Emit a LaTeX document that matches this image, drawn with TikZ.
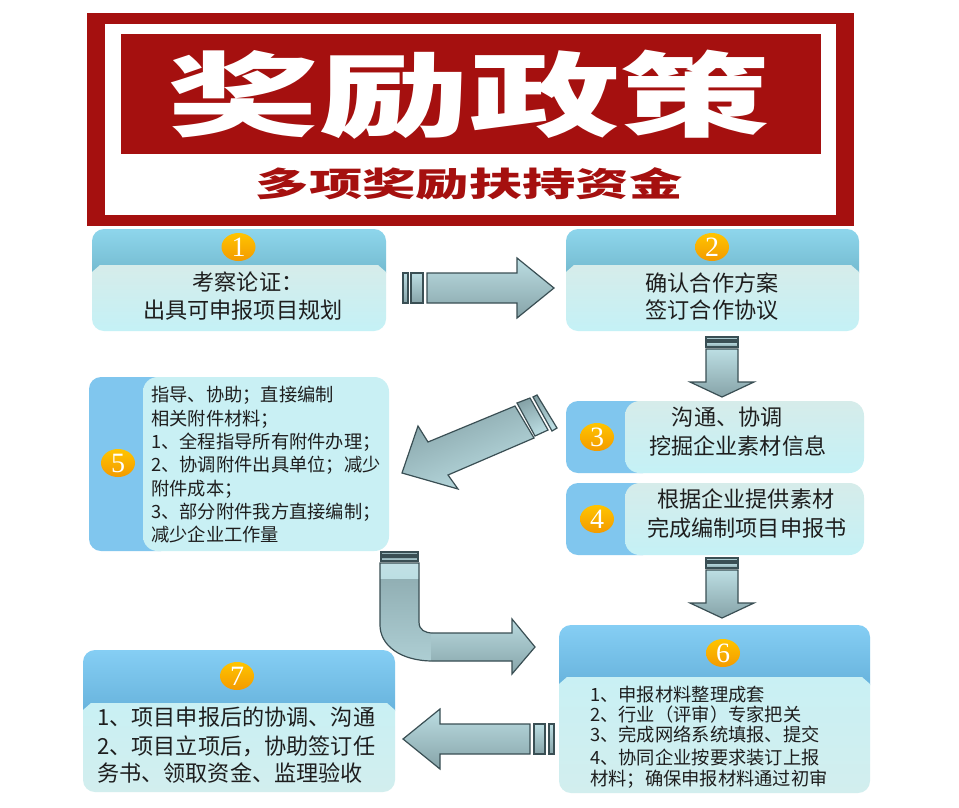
\documentclass[tikz,border=0pt]{standalone}
\usepackage{fontspec}
\setmainfont{Noto Sans CJK SC}
\newfontfamily\numfont{Liberation Serif}
\usetikzlibrary{calc,shapes.geometric}
\newcommand\fsemi{\char"FF1B\relax}
\newcommand\fcomma{\char"FF0C\relax}
\newcommand\fcolon{\char"FF1A\relax}
\newcommand\fopen{\char"FF08\relax}
\newcommand\fclose{\char"FF09\relax}
\definecolor{bannerred}{HTML}{A5100F}
\definecolor{bodyA}{HTML}{D6ECEA}
\definecolor{bodyB}{HTML}{C4F1F6}
\definecolor{bodyC}{HTML}{C9F0F4}
\definecolor{bodyD}{HTML}{D2EEEE}
\definecolor{tealtop}{HTML}{8ED6EC}
\definecolor{tealbot}{HTML}{6DB3C8}
\definecolor{bluetop}{HTML}{85CEF4}
\definecolor{bluebot}{HTML}{62AED8}
\definecolor{sideblue}{HTML}{80C6EE}
\definecolor{arrowdark}{HTML}{86A3A8}
\definecolor{arrowlight}{HTML}{BCDEE3}
\definecolor{arrowline}{HTML}{3A4F54}
\definecolor{orangetop}{HTML}{FFC400}
\definecolor{orangebot}{HTML}{F39A00}
\definecolor{inktext}{HTML}{1E1E1E}
\tikzset{
  bodyfill/.style={top color=bodyA,bottom color=bodyB},
  bodyrev/.style={top color=bodyC,bottom color=bodyD},
  bodyflat/.style={top color=bodyC,bottom color=bodyC!90!bodyB},
  badge/.style={ellipse,minimum width=25.5pt,minimum height=21pt,inner sep=0pt,top color=orangetop,bottom color=orangebot,text=white,font=\numfont\fontsize{21pt}{21pt}\selectfont},
  bigtext/.style={text=inktext,font=\fontsize{16.6pt}{20pt}\selectfont,inner sep=0pt,align=left},
  smalltext/.style={text=inktext,font=\fontsize{13.7pt}{17.5pt}\selectfont,inner sep=0pt,align=left},
  arrowpart/.style={draw=arrowline,line width=0.9pt,line join=miter},
  arrowshade/.style={arrowpart,top color=arrowlight,bottom color=arrowdark},
  slantshade/.style={arrowshade,shading angle=202.6},
}
% top-header panel: [body style] name, x1, y1, x2, y2, ybody, headtop, headbot
\newcommand\toppanelB[9][bodyfill]{%
  \shade[top color=#8,bottom color=#9,rounded corners=9pt] (#3,#4) rectangle (#5,{#7+20});
  \shade[#1] (#3,{#7+7}) -- ({#3+8},#7) -- ({#5-8},#7) -- (#5,{#7+7}) [rounded corners=9pt] -- (#5,#6) -- (#3,#6) [sharp corners] -- cycle;
  \coordinate (#2) at ({(#3+#5)/2},{(#4+#6)/2});
}
% side-header panel: [body style] name, x1, y1, x2, y2, xbody
\newcommand\sidepanel[7][bodyfill]{%
  \fill[sideblue,rounded corners=9pt] (#3,#4) rectangle ({#7+30},#6);
  \shade[#1,rounded corners=11pt] (#7,#4) rectangle (#5,#6);
  \coordinate (#2) at ({(#3+#5)/2},{(#4+#6)/2});
}
% block arrow: start, angle, thin bar end, wide bar start, wide bar end, shaft start, head start, tip, shaft half width
\newcommand\fatarrow[9]{%
  \begin{scope}[shift={(#1)},rotate=#2]
    \shade[arrowshade] (0,-#9) rectangle (#3,#9);
    \shade[arrowshade] (#4,-#9) rectangle (#5,#9);
    \shade[arrowshade] (#6,-#9) -- (#7,-#9) -- (#7,{-2*#9}) -- (#8,0) -- (#7,{2*#9}) -- (#7,#9) -- (#6,#9) -- cycle;
  \end{scope}
}
\newcommand\bendpath{(380,563) -- (419,563) -- (419,622) .. controls (419,630) and (425,633) .. (433,633) -- (512,633) -- (512,619) -- (535,647) -- (512,674) -- (512,661) -- (433,661) .. controls (400,661) and (380,645) .. (380,625) -- cycle}
\begin{document}
\begin{tikzpicture}[x=0.75pt,y=-0.75pt]
\useasboundingbox (0,0) rectangle (959,807);
\fill[white] (0,0) rectangle (959,807);
% banner
\fill[bannerred] (87,13) rectangle (854,226);
\fill[white] (105,24) rectangle (836,215);
\fill[bannerred] (121,33.5) rectangle (821,154);
\node[text=white,font=\bfseries\fontsize{69pt}{69pt}\selectfont,xscale=1.64,inner sep=0pt] (title) at (469,95) {奖励政策};
\node[text=bannerred,font=\bfseries\fontsize{25pt}{25pt}\selectfont,xscale=1.6,inner sep=0pt] (subtitle) at (469,184) {多项奖励扶持资金};
% panels
\toppanelB{p1}{92}{229}{386}{331}{265}{tealtop}{tealbot}
\toppanelB{p2}{566}{229}{859}{331}{265}{tealtop}{tealbot}
\sidepanel{p3}{566}{401}{864}{473}{625}
\sidepanel{p4}{566}{483}{864}{555}{625}
\sidepanel[bodyflat]{p5}{89}{377}{389}{551}{143}
\toppanelB[bodyrev]{p6}{559}{625}{870}{793}{677}{bluetop}{bluebot}
\toppanelB[bodyrev]{p7}{83}{650}{395}{792}{703}{bluetop}{bluebot}
% badges
\node[badge] (c1) at (238.5,247) {1};
\node[badge] (c2) at (712,247) {2};
\node[badge] (c3) at (597,437) {3};
\node[badge] (c4) at (597,519) {4};
\node[badge] (c5) at (118,463) {5};
\node[badge] (c6) at (723,653) {6};
\node[badge] (c7) at (237,676) {7};
% texts
\node[bigtext,anchor=west] (t1) at (143,296) {\hspace*{37pt}考察论证\fcolon\\[0.5pt]出具可申报项目规划};
\node[bigtext,align=center] (t2) at (712,296.5) {确认合作方案\\[0.5pt]签订合作协议};
\node[bigtext,anchor=west] (t3) at (649,431.5) {\hspace*{17pt}沟通、协调\\[2pt]挖掘企业素材信息};
\node[bigtext,anchor=west] (t4) at (647,513.5) {\hspace*{7.5pt}根据企业提供素材\\[2pt]完成编制项目申报书};
\node[smalltext,anchor=west] (t5) at (151,465) {指导、协助\fsemi 直接编制\\相关附件材料\fsemi\\1、全程指导所有附件办理\fsemi\\2、协调附件出具单位\fsemi 减少\\附件成本\fsemi\\3、部分附件我方直接编制\fsemi\\减少企业工作量};
\node[smalltext,anchor=west] (t6) at (590,737.5) {1、申报材料整理成套\\[-2.5pt]2、行业\fopen 评审\fclose 专家把关\\[-2.5pt]3、完成网络系统填报、提交\\[-0.2pt]4、协同企业按要求装订上报\\[-1.7pt]材料\fsemi 确保申报材料通过初审};
\node[bigtext,anchor=west] (t7) at (97,745) {1、项目申报后的协调、沟通\\[2pt]2、项目立项后\fcomma 协助签订任\\[0pt]务书、领取资金、监理验收};
% arrows
\coordinate (a1) at (403,288);
\coordinate (a2) at (722,337);
\coordinate (a4) at (722,558);
\coordinate (a5) at (554,739);
\fatarrow{a1}{0}{5}{8}{20}{24}{114}{151}{15}
\fatarrow{a2}{-90}{3}{5}{10}{12}{45}{60}{16}
\fatarrow{a4}{-90}{3}{5}{10}{12}{45}{60}{16}
\fatarrow{a5}{180}{5}{9}{20}{24}{114}{151}{15}
% slanted arrow from panel 3 to panel 5
\shade[slantshade] (533,397) -- (537,395) -- (557,428) -- (552,431) -- cycle;
\shade[slantshade] (517,403) -- (530,398) -- (548,430) -- (535,436) -- cycle;
\shade[slantshade] (515,406) -- (428,442) -- (418,426) -- (402,473) -- (458,489) -- (448,475) -- (534,438) -- cycle;
% curved arrow from panel 5 to panel 6
\shade[arrowpart,top color=arrowdark,bottom color=arrowlight] (381,552) rectangle (418,555);
\shade[arrowpart,top color=arrowdark,bottom color=arrowlight] (381,557) rectangle (418,561);
\begin{scope}
  \clip \bendpath;
  \shade[top color=arrowdark!80!arrowlight,bottom color=arrowlight!85!arrowdark] (375,578) rectangle (540,680);
  \shade[top color=arrowlight!90!white,bottom color=arrowlight] (375,560) rectangle (425,578);
  \shade[top color=arrowlight,bottom color=arrowdark] (431,615) rectangle (540,675);
\end{scope}
\draw[arrowpart] \bendpath;
\end{tikzpicture}
\end{document}
